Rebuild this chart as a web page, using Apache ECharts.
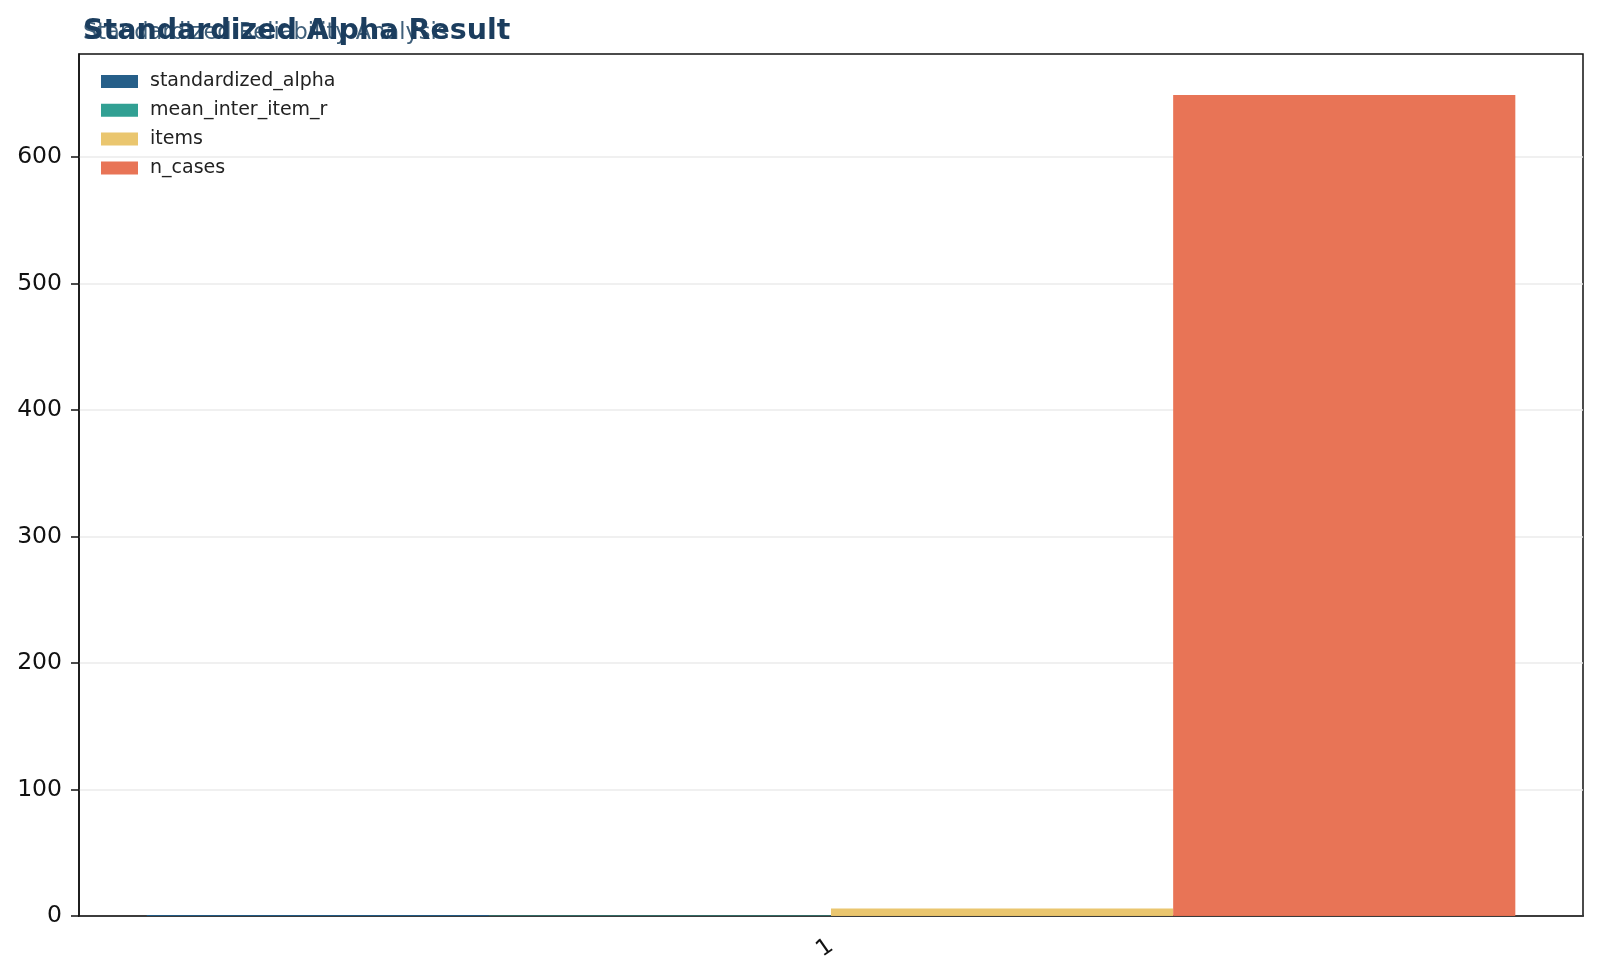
<!DOCTYPE html>
<html>
<head>
<meta charset="utf-8">
<title>Standardized Alpha Result</title>
<script src="https://cdn.jsdelivr.net/npm/echarts@6/dist/echarts.min.js"></script>
<style>
    html, body { margin: 0; padding: 0; background: #fff; }
    #chart { width: 1600px; height: 978px; }
</style>
</head>
<body>
<div id="chart"></div>
<script>
// one category, four measures
var categories = ['1'];
var seriesNames = ['standardized_alpha', 'mean_inter_item_r', 'items', 'n_cases'];
var alphaValues = [0.82];
var meanRValues = [0.41];
var itemsValues = [6];
var nCasesValues = [649];
var yTicks = [0, 100, 200, 300, 400, 500, 600];
var yMax = 681.45;

var colors = ['#1f5a85', '#2a9d8f', '#e9c46a', '#e76f51'];
var font = 'DejaVu Sans';

var option = {
    backgroundColor: '#fff',
    animation: false,
    title: [
        {
            text: 'Standardized Reliability Analysis',
            left: 78,
            top: 17,
            textStyle: { fontFamily: font, fontSize: 22.5, fontWeight: 'normal', color: '#3f5f7a' }
        },
        {
            text: 'Standardized Alpha Result',
            left: 78,
            top: 12,
            textStyle: { fontFamily: font, fontSize: 28.5, fontWeight: 'bold', color: '#1b3d5e' }
        }
    ],
    legend: {
        orient: 'vertical',
        left: 96,
        top: 67,
        icon: 'rect',
        itemWidth: 37,
        itemHeight: 13,
        itemGap: 9.8,
        data: seriesNames,
        textStyle: { fontFamily: font, fontSize: 19, color: '#222', lineHeight: 14, padding: [0, 0, 0, 7] }
    },
    grid: {
        left: 79,
        right: 17,
        top: 54,
        bottom: 62,
        show: true,
        borderColor: '#111',
        borderWidth: 1.5,
        backgroundColor: '#fff'
    },
    xAxis: {
        type: 'category',
        data: categories,
        boundaryGap: true,
        axisLine: { lineStyle: { color: '#111', width: 1.5 } },
        axisTick: { alignWithLabel: true, length: 8, lineStyle: { color: '#111', width: 1.5 } },
        axisLabel: {
            rotate: 35,
            margin: 28,
            fontFamily: font,
            fontSize: 23,
            color: '#111'
        },
        splitLine: { show: false }
    },
    yAxis: {
        type: 'value',
        min: 0,
        max: yMax,
        interval: 100,
        axisLine: { show: true, lineStyle: { color: '#111', width: 1.5 } },
        axisTick: { show: true, length: 8, customValues: yTicks, lineStyle: { color: '#111', width: 1.5 } },
        axisLabel: {
            customValues: yTicks,
            margin: 17,
            fontFamily: font,
            fontSize: 23.5,
            color: '#111'
        },
        splitLine: { show: true, lineStyle: { color: '#ebebeb', width: 1.5 } }
    },
    series: [
        { name: seriesNames[0], type: 'bar', data: alphaValues },
        { name: seriesNames[1], type: 'bar', data: meanRValues },
        { name: seriesNames[2], type: 'bar', data: itemsValues },
        { name: seriesNames[3], type: 'bar', data: nCasesValues }
    ].map(function (s, i) {
        s.barGap = '0%';
        s.barCategoryGap = '9%';
        s.itemStyle = { color: colors[i], opacity: 0.97 };
        return s;
    })
};

var chart = echarts.init(document.getElementById('chart'));
chart.setOption(option);
</script>
</body>
</html>
